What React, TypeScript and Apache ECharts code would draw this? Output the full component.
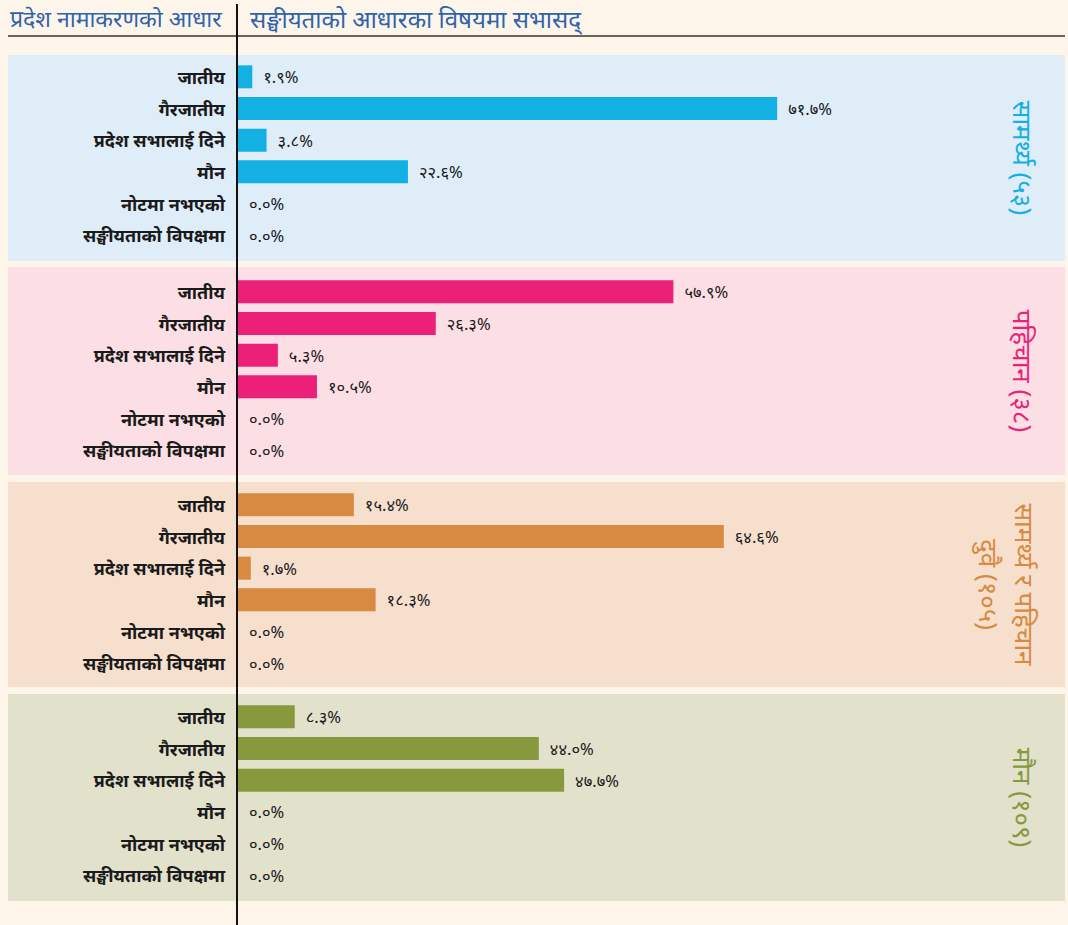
import React, { useEffect, useRef } from "react";
import * as echarts from "echarts";

const categories = ["जातीय", "गैरजातीय", "प्रदेश सभालाई दिने", "मौन", "नोटमा नभएको", "सङ्घीयताको विपक्षमा"];
const panelTitles = ["सामर्थ्य (५३)", "पहिचान (३८)", "सामर्थ्य र पहिचान\nदुवै (१०५)", "मौन (१०९)"];
const valuesSamarthya = [1.9, 71.7, 3.8, 22.6, 0.0, 0.0];
const valuesPahichan = [57.9, 26.3, 5.3, 10.5, 0.0, 0.0];
const valuesDuwai = [15.4, 64.6, 1.7, 18.3, 0.0, 0.0];
const valuesMaun = [8.3, 44.0, 47.7, 0.0, 0.0, 0.0];
const headerLeft = "प्रदेश नामाकरणको आधार";
const headerRight = "सङ्घीयताको आधारका विषयमा सभासद्";

const panelValues = [valuesSamarthya, valuesPahichan, valuesDuwai, valuesMaun];
const panelMax = [100, 100, 100, 110];
const barColors = ["#13b0e4", "#ec1f79", "#d78a40", "#88993d"];
const panelBg = ["#deedf8", "#fbdfe4", "#f6dfcd", "#e1e1cc"];
const panelRect = [
  [55, 206],
  [267, 208],
  [482, 205],
  [694, 207],
];
const titleX = [1023, 1023, 1007, 1023];
const gridTops = [61, 276, 489, 701];

const devDigits = "०१२३४५६७८९";
const toDev = (s: string) => s.replace(/[0-9]/g, (d) => devDigits[Number(d)]);

const FONT = "'Noto Sans', 'DejaVu Sans', sans-serif";

export default function App() {
  const ref = useRef<HTMLDivElement>(null);
  useEffect(() => {
    if (!ref.current) return;
    const chart = echarts.init(ref.current, undefined, { renderer: "svg" });
    const grids = gridTops.map((t) => ({ left: 238, top: t, width: 752, height: 190 }));
    const xAxis = panelMax.map((m, i) => ({
      type: "value",
      gridIndex: i,
      min: 0,
      max: m,
      show: false,
    }));
    const yAxis = panelMax.map((_, i) => ({
      type: "category",
      gridIndex: i,
      data: categories,
      inverse: true,
      axisLine: { show: false },
      axisTick: { show: false },
      axisLabel: {
        margin: 13,
        fontSize: 18,
        fontWeight: "bold",
        color: "#1a1a1a",
        fontFamily: FONT,
      },
    }));
    const series = panelValues.map((vals, i) => ({
      type: "bar",
      xAxisIndex: i,
      yAxisIndex: i,
      data: vals,
      barWidth: 23,
      itemStyle: { color: barColors[i] },
      label: {
        show: true,
        position: "right",
        distance: 11,
        fontSize: 16.5,
        color: "#1a1a1a",
        fontFamily: FONT,
        formatter: (p: any) => toDev(Number(p.value).toFixed(1)) + "%",
      },
    }));
    const graphic: any[] = [];
    panelRect.forEach(([y, h], i) => {
      graphic.push({
        type: "rect",
        z: -10,
        shape: { x: 8, y, width: 1057, height: h },
        style: { fill: panelBg[i] },
      });
      graphic.push({
        type: "text",
        z: 10,
        x: titleX[i],
        y: y + h / 2,
        rotation: -Math.PI / 2,
        style: {
          text: panelTitles[i],
          fill: barColors[i],
          fontSize: 26,
          fontFamily: FONT,
          align: "center",
          verticalAlign: "middle",
          lineHeight: 36,
        },
      });
    });
    graphic.push({
      type: "line",
      z: 5,
      shape: { x1: 8, y1: 36, x2: 1065, y2: 36 },
      style: { stroke: "#333", lineWidth: 1.5 },
    });
    graphic.push({
      type: "line",
      z: 20,
      shape: { x1: 237, y1: 4, x2: 237, y2: 925 },
      style: { stroke: "#111", lineWidth: 2 },
    });
    graphic.push({
      type: "text",
      x: 10,
      y: 18,
      style: {
        text: headerLeft,
        fill: "#2e64aa",
        fontSize: 23,
        fontFamily: FONT,
        verticalAlign: "middle",
      },
    });
    graphic.push({
      type: "text",
      x: 250,
      y: 18,
      style: {
        text: headerRight,
        fill: "#2e64aa",
        fontSize: 24,
        fontFamily: FONT,
        verticalAlign: "middle",
      },
    });
    chart.setOption({
      animation: false,
      backgroundColor: "#fdf4ea",
      grid: grids,
      xAxis,
      yAxis,
      series,
      graphic,
    });
    return () => chart.dispose();
  }, []);
  return (
    <div
      ref={ref}
      style={{ position: "fixed", left: 0, top: 0, width: 1068, height: 925 }}
    />
  );
}
